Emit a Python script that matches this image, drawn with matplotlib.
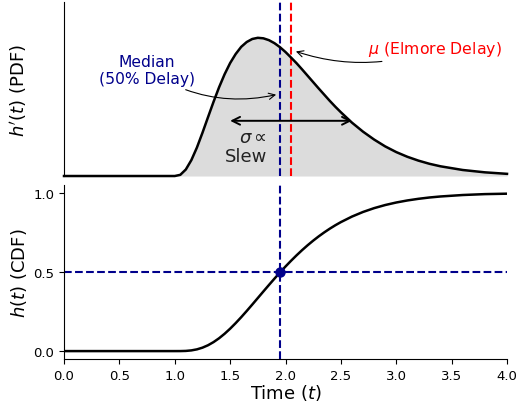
import matplotlib
matplotlib.use("Agg")
import matplotlib.pyplot as plt

# --- values ---
t = [0.0, 1.0, 1.05, 1.1, 1.15, 1.2, 1.25, 1.3, 1.35, 1.4, 1.45, 1.5, 1.55,
     1.6, 1.65, 1.7, 1.75, 1.8, 1.85, 1.9, 1.95, 2.0, 2.05, 2.1, 2.15, 2.2,
     2.25, 2.3, 2.35, 2.4, 2.45, 2.5, 2.6, 2.7, 2.8, 2.9, 3.0, 3.1, 3.2, 3.3,
     3.4, 3.6, 3.8, 4.0]
pdf = [0.0, 0.0, 0.007, 0.039, 0.095, 0.170, 0.258, 0.351, 0.443, 0.530,
       0.608, 0.675, 0.729, 0.772, 0.801, 0.819, 0.826, 0.823, 0.812, 0.794,
       0.770, 0.741, 0.708, 0.674, 0.637, 0.599, 0.561, 0.523, 0.486, 0.449,
       0.414, 0.381, 0.319, 0.265, 0.218, 0.177, 0.143, 0.115, 0.092, 0.073,
       0.058, 0.036, 0.022, 0.013]
cdf = [0.0, 0.0, 0.0001, 0.0011, 0.0044, 0.0109, 0.0216, 0.0368, 0.0567,
       0.0810, 0.1095, 0.1416, 0.1768, 0.2143, 0.2537, 0.2943, 0.3355, 0.3767,
       0.4176, 0.4578, 0.4969, 0.5347, 0.5709, 0.6055, 0.6383, 0.6692, 0.6982,
       0.7253, 0.7505, 0.7739, 0.7955, 0.8153, 0.8503, 0.8795, 0.9036, 0.9233,
       0.9393, 0.9522, 0.9626, 0.9710, 0.9774, 0.9866, 0.9923, 0.9950]

median = 1.95      # 50% delay
mean = 2.05        # Elmore delay
sigma = 0.55
sigma_y = 0.33     # height of the sigma arrow on the PDF

x_ticks = [0.0, 0.5, 1.0, 1.5, 2.0, 2.5, 3.0, 3.5, 4.0]
y_ticks = [0.0, 0.5, 1.0]

BLUE = "darkblue"
RED = "red"

fig = plt.figure(figsize=(5.19, 4.06), dpi=100)
ax1 = fig.add_axes([0.1233, 0.5640, 0.8536, 0.4286])
ax2 = fig.add_axes([0.1233, 0.1133, 0.8536, 0.4286], sharex=ax1)

# --- top: PDF ---
ax1.fill_between(t, pdf, 0, color="#dcdcdc", lw=0)
ax1.plot(t, pdf, color="black", lw=1.8, clip_on=False, zorder=3)
ax1.axvline(median, color=BLUE, ls="--", lw=1.5, zorder=2)
ax1.axvline(mean, color=RED, ls="--", lw=1.5, zorder=2)

ax1.annotate("", xy=(mean - sigma, sigma_y), xytext=(mean + sigma, sigma_y),
             arrowprops=dict(arrowstyle="<->", lw=1.4, color="black",
                             shrinkA=0, shrinkB=0, mutation_scale=14))
ax1.text(1.643, 0.176, "$\\sigma \\propto$\nSlew", fontsize=13, ha="center",
         va="center", multialignment="right", color="#222222",
         linespacing=1.05)

ax1.annotate("Median\n(50% Delay)", xy=(1.94, 0.49), xytext=(0.75, 0.635),
             color=BLUE, fontsize=11.2, ha="center", va="center",
             arrowprops=dict(arrowstyle="->", lw=0.8, color="black",
                             connectionstyle="arc3,rad=0.22"))
ax1.annotate("$\\mu$ (Elmore Delay)", xy=(2.07, 0.75), xytext=(2.745, 0.76),
             color=RED, fontsize=11.3, ha="left", va="center",
             arrowprops=dict(arrowstyle="->", lw=0.8, color="black",
                             connectionstyle="arc3,rad=-0.18"))

ax1.set_ylim(0, 1.04)
ax1.set_yticks([])
ax1.tick_params(axis="x", bottom=False, labelbottom=False)
for side in ("top", "right", "bottom"):
    ax1.spines[side].set_visible(False)
ax1.set_ylabel("$h'(t)$ (PDF)", fontsize=13)
ax1.yaxis.set_label_coords(-0.08, 0.5)

# --- bottom: CDF ---
ax2.plot(t, cdf, color="black", lw=1.8)
ax2.axvline(median, color=BLUE, ls="--", lw=1.5)
ax2.axhline(0.5, color=BLUE, ls="--", lw=1.5)
ax2.plot([median], [0.5], "o", color=BLUE, ms=6.5, zorder=4)

ax2.set_xlim(0, 4)
ax2.set_ylim(-0.05, 1.05)
ax2.set_xticks(x_ticks)
ax2.set_yticks(y_ticks)
ax2.tick_params(labelsize=9.5)
for side in ("top", "right"):
    ax2.spines[side].set_visible(False)
ax2.set_ylabel("$h(t)$ (CDF)", fontsize=13)
ax2.yaxis.set_label_coords(-0.08, 0.5)
ax2.set_xlabel("Time ($t$)", fontsize=13, labelpad=0.5)

fig.savefig("out.png", dpi=100)
